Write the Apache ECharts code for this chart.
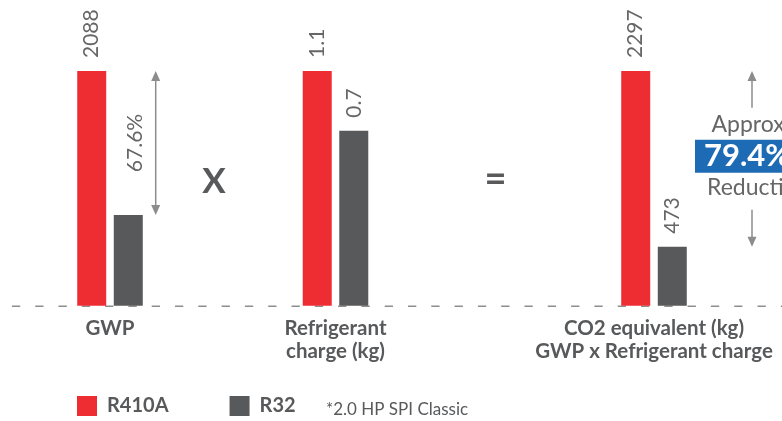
<!DOCTYPE html>
<html><head><meta charset="utf-8">
<script src="https://cdn.jsdelivr.net/npm/echarts@6/dist/echarts.min.js"></script>
<style>html,body{margin:0;padding:0;background:#fff}#c{width:782px;height:421px}</style>
</head><body><div id="c"></div>
<script>
const groups = ['GWP', 'Refrigerant\ncharge (kg)', 'CO2 equivalent (kg)\nGWP x Refrigerant charge'];
const seriesNames = ['R410A', 'R32'];
const r410aValues = [2088, 1.1, 2297];
const r32Values = [807, 0.82, 577];
const r410aLabels = ['2088', '1.1', '2297'];
const r32Labels = ['', '0.7', '473'];
const operators = ['X', '='];
const gwpReduction = '67.6%';
const co2Reduction = ['Approx.', '79.4%', 'Reduction'];
const note = '*2.0 HP SPI Classic';

const RED = '#EE2D32', GRAY = '#58595B', TXT = '#666666', DARK = '#58595B', ARROW = '#8C8C8C', BLUE = '#1E6BB5';
const FONT = 'Lato, "Open Sans", sans-serif';
const centers = [110, 335.5, 654];

const chart = echarts.init(document.getElementById('c'), null, {renderer: 'canvas'});
const grids = [], xAxes = [], yAxes = [], series = [];
groups.forEach((g, i) => {
  grids.push({left: centers[i] - 50, width: 100, top: 71, bottom: 115.3});
  xAxes.push({type: 'category', gridIndex: i, data: [g], axisLine: {show: false}, axisTick: {show: false},
    axisLabel: {color: DARK, fontWeight: 'bold', fontSize: 20.5, fontFamily: FONT, lineHeight: 23, margin: 11, interval: 0}});
  yAxes.push({type: 'value', gridIndex: i, min: 0, max: 'dataMax', show: false, splitLine: {show: false}});
  const lbl = (arr) => ({show: true, position: 'top', rotate: 90, align: 'left', verticalAlign: 'middle', distance: 13,
    formatter: () => arr[i], color: TXT, fontSize: 21, fontFamily: FONT});
  series.push({name: seriesNames[0], type: 'bar', xAxisIndex: i, yAxisIndex: i, data: [r410aValues[i]],
    barWidth: 29, barGap: '26%', itemStyle: {color: RED}, label: lbl(r410aLabels), z: 3, animation: false});
  series.push({name: seriesNames[1], type: 'bar', xAxisIndex: i, yAxisIndex: i, data: [r32Values[i]],
    barWidth: 29, barGap: '26%', itemStyle: {color: GRAY}, label: lbl(r32Labels), z: 3, animation: false});
});

chart.setOption({
  animation: false,
  grid: grids, xAxis: xAxes, yAxis: yAxes, series: series,
  legend: {data: seriesNames, left: 77, top: 396, padding: 0, itemWidth: 20, itemHeight: 20, icon: 'rect', itemGap: 61,
    selectedMode: false,
    textStyle: {color: DARK, fontWeight: 'bold', fontSize: 20, fontFamily: FONT, width: 62, padding: [0, 0, 0, 5]}}
});

// annotations positioned from the data scales
const px = (i, v) => chart.convertToPixel({xAxisIndex: i, yAxisIndex: i}, [0, v]);
const base = px(0, 0)[1];
const top0 = px(0, r410aValues[0])[1], gray0 = px(0, r32Values[0])[1];
const top2 = px(2, r410aValues[2])[1], gray2 = px(2, r32Values[2])[1];

function arrowHead(x, y, dir) { // dir -1 up, 1 down
  return {type: 'polygon', shape: {points: [[x, y], [x - 4.5, y - dir * 10], [x + 4.5, y - dir * 10]]},
    style: {fill: ARROW}, z: 10};
}
function vline(x, y1, y2) {
  return {type: 'line', shape: {x1: x, y1: y1, x2: x, y2: y2}, style: {stroke: ARROW, lineWidth: 1.5}, z: 10};
}
const g = [];
// dashed baseline
g.push({type: 'line', shape: {x1: -11.4, y1: base + 0.5, x2: 800, y2: base + 0.5},
  style: {stroke: '#8E8E8E', lineWidth: 1.6, lineDash: [8.3, 15]}, z: 1});
// GWP arrow
const ax0 = 155.7;
g.push(vline(ax0, top0 + 5, gray0 - 5), arrowHead(ax0, top0, -1), arrowHead(ax0, gray0, 1));
g.push({type: 'text', x: 135, y: (top0 + gray0) / 2, rotation: Math.PI / 2,
  style: {text: gwpReduction, fill: TXT, font: '21px ' + FONT, align: 'center', verticalAlign: 'middle'}, z: 10});
// operators
g.push({type: 'text', x: 214, y: 182, style: {text: operators[0], fill: DARK, font: 'bold 35px ' + FONT, align: 'center', verticalAlign: 'middle'}, z: 10});
g.push({type: 'text', x: 495.5, y: 180, style: {text: operators[1], fill: DARK, font: 'bold 38px ' + FONT, align: 'center', verticalAlign: 'middle'}, z: 10});
// CO2 reduction annotation
const ax2 = 752, mid = (top2 + gray2) / 2;
g.push(vline(ax2, top2 + 5, mid - 51), arrowHead(ax2, top2, -1));
g.push(vline(ax2, mid + 51, gray2 - 5), arrowHead(ax2, gray2, 1));
g.push({type: 'text', x: 711.5, y: mid - 34, style: {text: co2Reduction[0], fill: TXT, font: '23px ' + FONT, align: 'left', verticalAlign: 'middle'}, z: 10});
g.push({type: 'rect', shape: {x: 695, y: mid - 19, width: 120, height: 33}, style: {fill: BLUE}, z: 10});
g.push({type: 'text', x: 704, y: mid - 2.5, style: {text: co2Reduction[1], fill: '#fff', font: 'bold 31px ' + FONT, align: 'left', verticalAlign: 'middle'}, z: 11});
g.push({type: 'text', x: 707, y: mid + 29, style: {text: co2Reduction[2], fill: TXT, font: '23px ' + FONT, align: 'left', verticalAlign: 'middle'}, z: 10});
// note
g.push({type: 'text', x: 326, y: 410, style: {text: note, fill: DARK, font: '17px ' + FONT, align: 'left', verticalAlign: 'middle'}, z: 10});
chart.setOption({graphic: g});
</script></body></html>
